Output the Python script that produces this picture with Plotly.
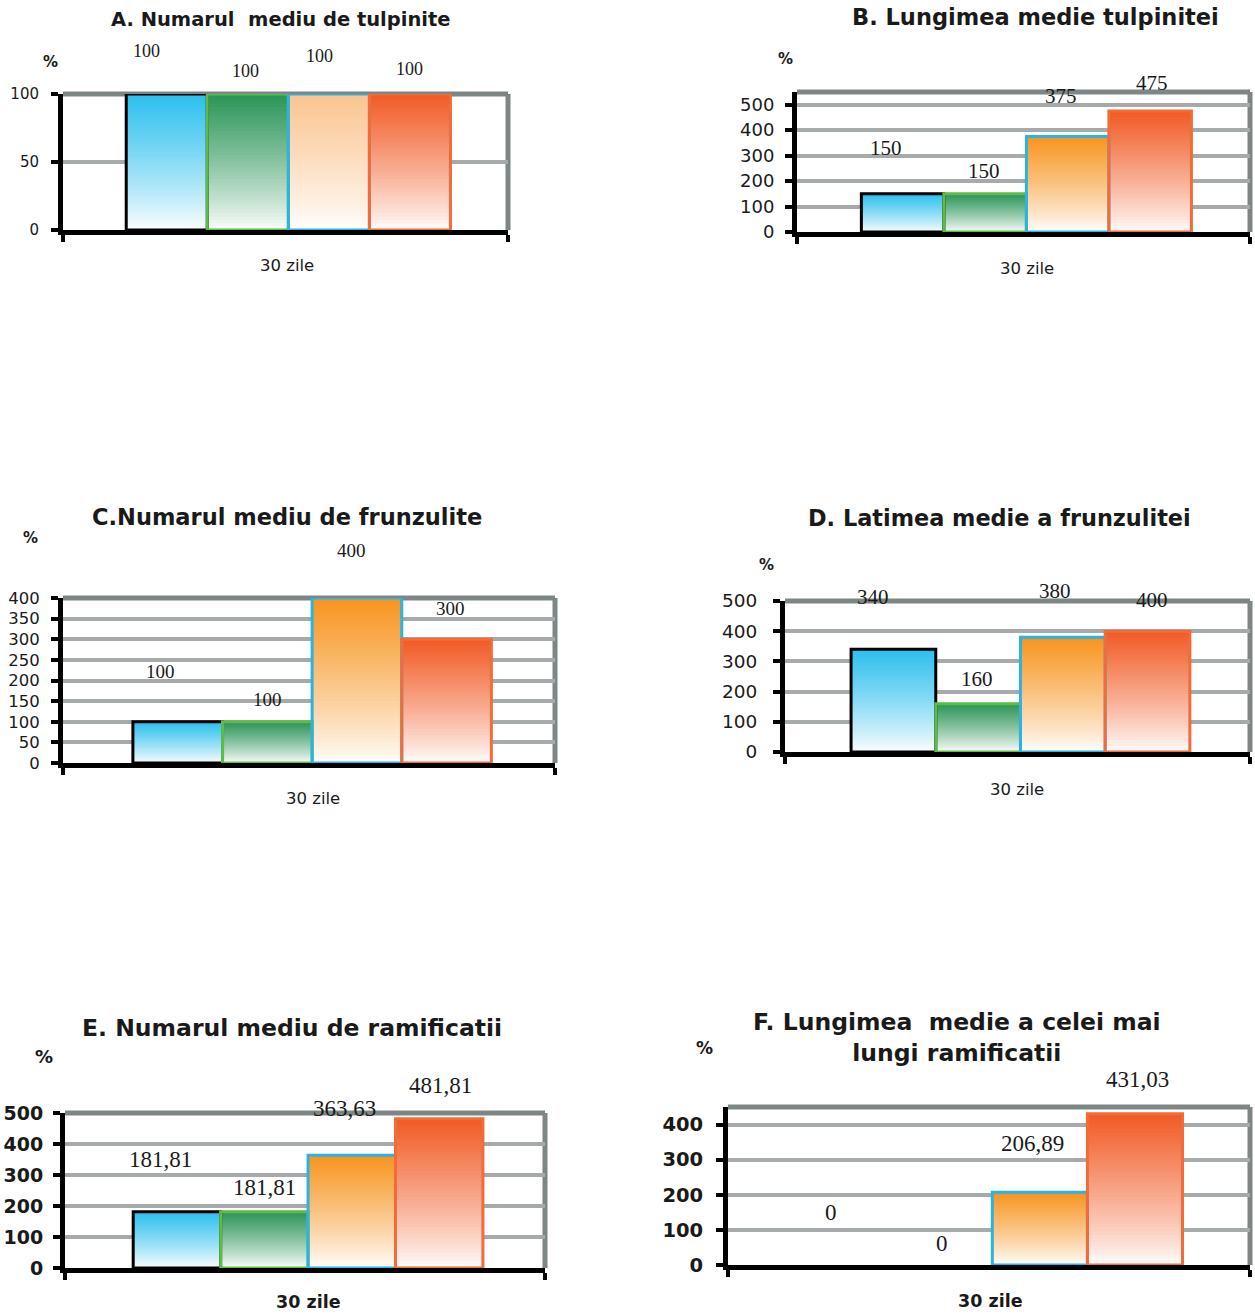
import plotly.graph_objects as go

W, H = 1255, 1316

# ---- data -------------------------------------------------------------
category = "30 zile"
titles = [
    "A. Numarul  mediu de tulpinite",
    "B. Lungimea medie tulpinitei",
    "C.Numarul mediu de frunzulite",
    "D. Latimea medie a frunzulitei",
    "E. Numarul mediu de ramificatii",
    "F. Lungimea  medie a celei mai<br>lungi ramificatii",
]
vals_A = [100, 100, 100, 100]
vals_B = [150, 150, 375, 475]
vals_C = [100, 100, 400, 300]
vals_D = [340, 160, 380, 400]
vals_E = [181.81, 181.81, 363.63, 481.81]
vals_F = [0, 0, 206.89, 431.03]

ticks_A = [0, 50, 100]
ticks_B = [0, 100, 200, 300, 400, 500]
ticks_C = [0, 50, 100, 150, 200, 250, 300, 350, 400]
ticks_D = [0, 100, 200, 300, 400, 500]
ticks_E = [0, 100, 200, 300, 400, 500]
ticks_F = [0, 100, 200, 300, 400]

axis_max = [100, 550, 400, 500, 500, 450]

# ---- styles -----------------------------------------------------------
BLUE = (43, 191, 238)
GREEN = (42, 148, 87)
ORANGE = (247, 148, 30)
PEACH = (251, 196, 144)
RED = (241, 90, 36)
OUTLINES = ["#000000", "#5DBB46", "#29B3E6", "#F26B3A"]
GRID = "#A6AAAB"
FRAME = "#7D8585"
WIDE = "DejaVu Sans, Verdana, sans-serif"
SERIF = "Liberation Serif, Times New Roman, serif"
TXT = "#1a1a1a"

# box = (left, right, top, bottom) in pixels
panels = [
    dict(vals=vals_A, ticks=ticks_A, box=(63, 508, 94, 230), tops=[BLUE, GREEN, PEACH, RED],
         title=(281, 20, 19.5), pct=(50, 62, 17), xlab=(287, 265, 16.5, False),
         tick=(15, False), stand=9,
         lab_fs=18, dx=[-20, -2, -9, 0], dy=[43, 23, 38, 25]),
    dict(vals=vals_B, ticks=ticks_B, box=(797, 1250, 92, 232), tops=[BLUE, GREEN, ORANGE, RED],
         title=(1035, 17, 22.5), pct=(785, 59, 17), xlab=(1027, 268, 16.5, False),
         tick=(18, False), stand=7,
         lab_fs=21, dx=[-17, -1, -7, 2], dy=[46, 23, 41, 28]),
    dict(vals=vals_C, ticks=ticks_C, box=(63, 555, 598, 763), tops=[BLUE, GREEN, ORANGE, RED],
         title=(287, 517, 22.5), pct=(30, 538, 17), xlab=(313, 799, 16.5, False),
         tick=(16.5, False), stand=8,
         lab_fs=19, dx=[-17, 0, -5, 4], dy=[50, 22, 48, 31]),
    dict(vals=vals_D, ticks=ticks_D, box=(785, 1250, 601, 752), tops=[BLUE, GREEN, ORANGE, RED],
         title=(999, 518, 22.4), pct=(767, 565, 17), xlab=(1017, 789, 16.5, False),
         tick=(18.5, False), stand=12,
         lab_fs=21, dx=[-20, -1, -8, 4], dy=[52, 25, 46, 31]),
    dict(vals=vals_E, ticks=ticks_E, box=(65, 545, 1113, 1268), tops=[BLUE, GREEN, ORANGE, RED],
         title=(292, 1028, 23.5), pct=(44, 1056, 20), xlab=(308, 1302, 17.5, True),
         tick=(19, True), stand=6,
         lab_fs=23, dx=[-16, 0, -7, 1], dy=[52, 24, 47, 33]),
    dict(vals=vals_F, ticks=ticks_F, box=(728, 1250, 1107, 1265), tops=[BLUE, GREEN, ORANGE, RED],
         title=(957, 1037, 23.5), pct=(705, 1048, 19), xlab=(990, 1301, 17.5, True),
         tick=(19.5, True), stand=9,
         lab_fs=23, dx=[-19, -3, -7, 3], dy=[53, 22, 49, 34]),
]

X_RANGE = [-1.28, 4.21]
N_STEPS = 40


def mix(rgb, t):
    r, g, b = (round(255 + (c - 255) * t) for c in rgb)
    return f"rgb({r},{g},{b})"


def fmt(v):
    if float(v).is_integer():
        return str(int(v))
    return f"{v:.2f}".replace(".", ",")


fig = go.Figure()
layout = dict(
    width=W, height=H, margin=dict(l=0, r=0, t=0, b=0, autoexpand=False),
    paper_bgcolor="white", plot_bgcolor="rgba(0,0,0,0)",
    barmode="overlay", showlegend=False,
)
annotations = []
shapes = []
xs = [0, 1, 2, 3]

for i, p in enumerate(panels):
    n = "" if i == 0 else str(i + 1)
    xa, ya = "x" + n, "y" + n
    l, r, t, b = p["box"]

    # gradient fill: nested bars, tallest first, each shorter one lighter
    for k in range(N_STEPS):
        frac = 1 - k / N_STEPS
        tcol = max(frac - 0.5 / N_STEPS, 0) ** 0.85
        fig.add_trace(go.Bar(
            x=xs, y=[v * frac for v in p["vals"]], width=1,
            marker=dict(color=[mix(c, tcol) for c in p["tops"]], line=dict(width=0)),
            xaxis=xa, yaxis=ya, hoverinfo="skip", showlegend=False,
        ))
    # bar outlines (none for empty bars)
    fig.add_trace(go.Bar(
        x=xs, y=p["vals"], width=1,
        marker=dict(color="rgba(0,0,0,0)",
                    line=dict(color=OUTLINES, width=[3 if v > 0 else 0 for v in p["vals"]])),
        xaxis=xa, yaxis=ya, hoverinfo="skip", showlegend=False,
    ))

    tfs, tbold = p["tick"]
    layout["xaxis" + n] = dict(
        domain=[l / W, r / W], anchor=ya, range=X_RANGE, fixedrange=True, automargin=False,
        showline=True, linecolor="black", linewidth=5, showgrid=False, zeroline=False,
        tickvals=[X_RANGE[0] + 0.004, X_RANGE[1] - 0.004], ticks="outside",
        ticklen=7, tickwidth=4, tickcolor="black", showticklabels=False,
    )
    layout["yaxis" + n] = dict(
        domain=[1 - b / H, 1 - t / H], anchor=xa, range=[0, axis_max[i]], fixedrange=True,
        automargin=False,
        showline=True, linecolor="black", linewidth=5, zeroline=False,
        showgrid=True, gridcolor=GRID, gridwidth=4,
        tickvals=p["ticks"], ticks="outside", ticklen=7, tickwidth=4, tickcolor="black",
        tickfont=dict(family=WIDE, size=tfs, color=TXT, weight="bold" if tbold else "normal"),
        ticklabelstandoff=p["stand"],
    )

    # grey frame on top and right
    shapes.append(dict(type="line", xref=xa + " domain", yref=ya + " domain",
                       x0=0, x1=1, y0=1, y1=1, line=dict(color=FRAME, width=5), layer="below"))
    shapes.append(dict(type="line", xref=xa + " domain", yref=ya + " domain",
                       x0=1, x1=1, y0=0, y1=1, line=dict(color=FRAME, width=5), layer="below"))

    # value labels
    for j, v in enumerate(p["vals"]):
        annotations.append(dict(
            x=xs[j], y=v, xref=xa, yref=ya, text=fmt(v), showarrow=False,
            xshift=p["dx"][j], yshift=p["dy"][j], xanchor="center", yanchor="middle",
            font=dict(family=SERIF, size=p["lab_fs"], color=TXT),
        ))

    tx, ty, ts = p["title"]
    annotations.append(dict(
        x=tx / W, y=1 - ty / H, xref="paper", yref="paper", text="<b>" + titles[i] + "</b>",
        showarrow=False, xanchor="center", yanchor="middle",
        font=dict(family=WIDE, size=ts, color=TXT),
    ))
    px_, py_, pfs = p["pct"]
    annotations.append(dict(
        x=px_ / W, y=1 - py_ / H, xref="paper", yref="paper", text="<b>%</b>",
        showarrow=False, xanchor="center", yanchor="middle",
        font=dict(family=WIDE, size=pfs - 2, color=TXT),
    ))
    lx, ly, lfs, bold = p["xlab"]
    annotations.append(dict(
        x=lx / W, y=1 - ly / H, xref="paper", yref="paper",
        text=("<b>" + category + "</b>") if bold else category,
        showarrow=False, xanchor="center", yanchor="middle",
        font=dict(family=WIDE, size=lfs, color=TXT),
    ))

layout["annotations"] = annotations
layout["shapes"] = shapes
fig.update_layout(**layout)
fig.write_html("out.html")
